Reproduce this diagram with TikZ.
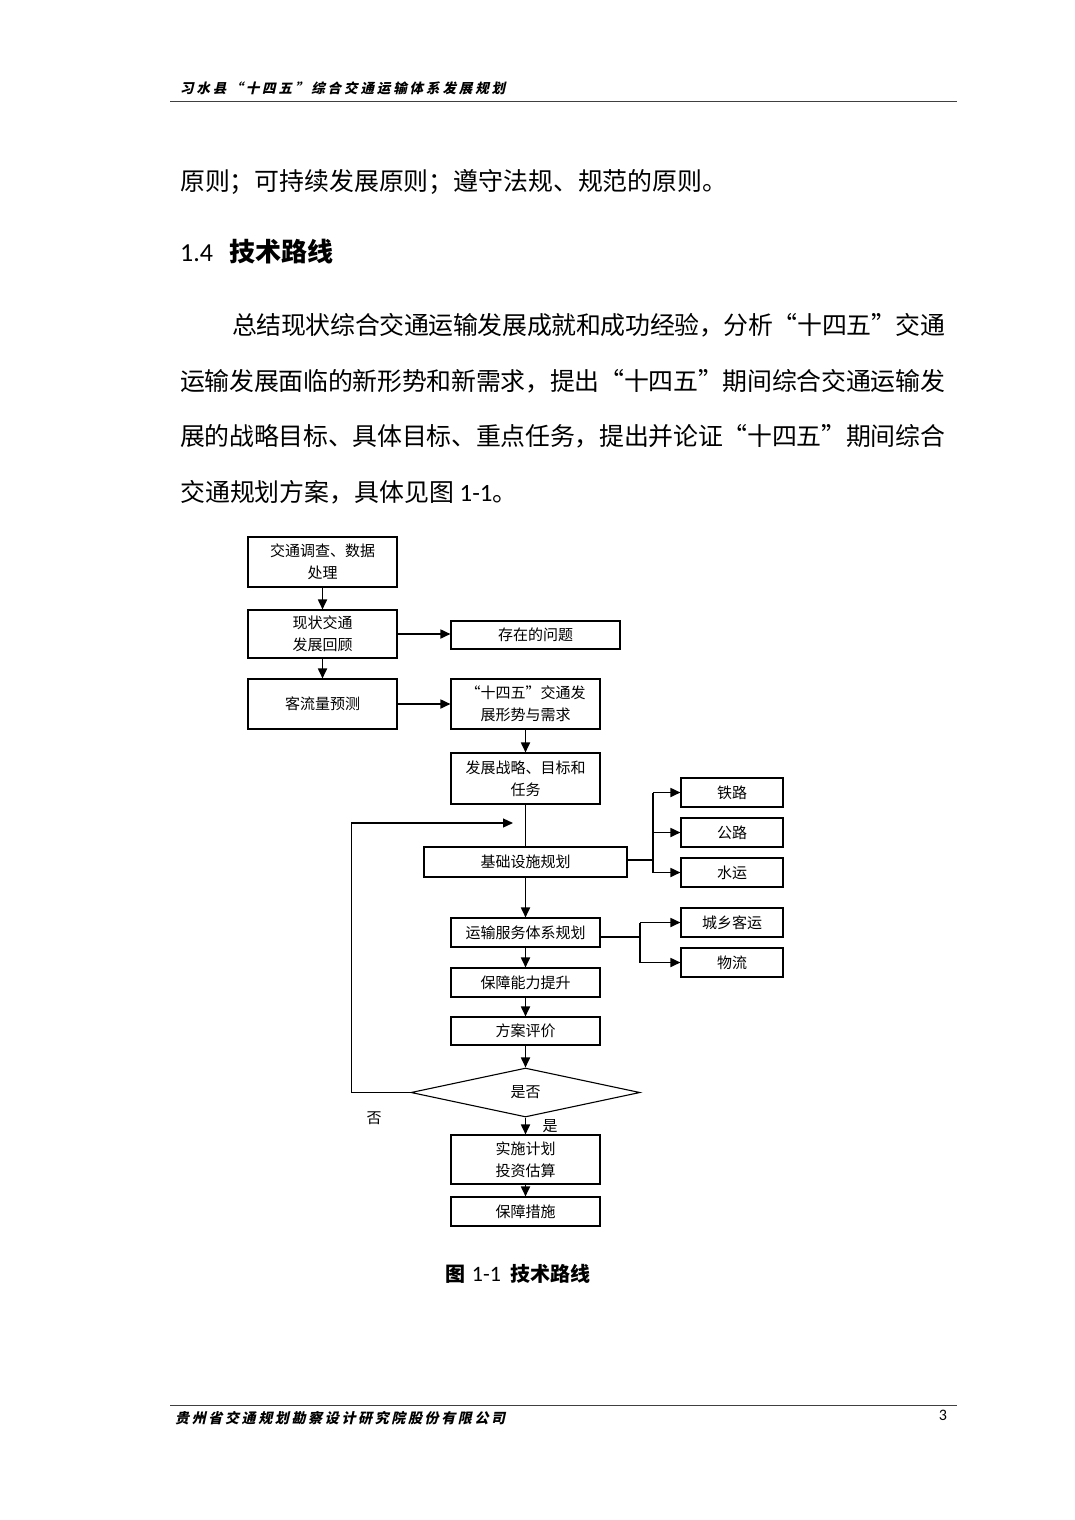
\documentclass[tikz,border=0pt]{standalone}
\usepackage{fontspec}
\setmainfont{Carlito}
\newfontfamily\cjk{Noto Sans CJK SC}
\newfontfamily\hdr[FakeSlant=0.22]{Noto Sans CJK SC}
\usetikzlibrary{arrows.meta,shapes.geometric}
\def\spreadtxt#1{#1\spreadnext}
\def\spreadnext#1{\ifx\relax#1\else\hskip 0pt plus 1fil minus 4pt #1\expandafter\spreadnext\fi}
\begin{document}
\begin{tikzpicture}[x=1pt,y=-1pt,
  box/.style={draw, line width=1.1pt, inner sep=0pt, align=center,
    font=\cjk\fontsize{15}{22}\selectfont},
  arr/.style={line width=1.7pt, -{Triangle[length=10pt,width=9pt]}},
  tarr/.style={line width=1.2pt, -{Triangle[length=10pt,width=9pt]}},
  ln/.style={line width=1.1pt},
  body/.style={anchor=west, inner sep=0pt, font=\cjk\fontsize{24.9}{30}\selectfont},
  lbl/.style={inner sep=0pt, font=\cjk\fontsize{15}{22}\selectfont}]
\fill[white] (0,0) rectangle (1074,1520);
\useasboundingbox (0,0) rectangle (1074,1520);
% header
\node[anchor=west, inner sep=0pt, font=\hdr\bfseries\fontsize{13.5}{16}\selectfont] (hd) at (180,88)
  {\makebox[325pt][s]{\spreadtxt 习水县“十四五”综合交通运输体系发展规划\relax}};
\draw[line width=0.9pt, black!75] (170,101) -- (957,101);
% body text
\node[body] (t0) at (180,182) {\makebox[547pt][s]{\spreadtxt 原则；可持续发展原则；遵守法规、规范的原则。\relax}};
\node[anchor=west, inner sep=0pt] (h14) at (180,252)
  {\fontsize{26}{30}\selectfont 1.4\hspace{16pt}{\cjk\bfseries 技术路线}};
\node[body] (p1) at (232,325) {\makebox[713pt][s]{\spreadtxt 总结现状综合交通运输发展成就和成功经验，分析“十四五”交通\relax}};
\node[body] (p2) at (180,381) {\makebox[765pt][s]{\spreadtxt 运输发展面临的新形势和新需求，提出“十四五”期间综合交通运输发\relax}};
\node[body] (p3) at (180,436) {\makebox[765pt][s]{\spreadtxt 展的战略目标、具体目标、重点任务，提出并论证“十四五”期间综合\relax}};
\node[body] (p4) at (180,492) {交通规划方案，具体见图{\rmfamily\ 1-1}。};
% flowchart boxes
\node[box, minimum width=149pt, minimum height=50pt] (b1) at (322.5,562) {交通调查、数据\\处理};
\node[box, minimum width=149pt, minimum height=48pt] (b2) at (322.5,634) {现状交通\\发展回顾};
\node[box, minimum width=169pt, minimum height=28pt] (b3) at (535.5,635) {存在的问题};
\node[box, minimum width=149pt, minimum height=50pt] (b4) at (322.5,704) {客流量预测};
\node[box, minimum width=149pt, minimum height=50pt] (b5) at (525.5,704) {“十四五”交通发\\展形势与需求};
\node[box, minimum width=149pt, minimum height=51pt] (b6) at (525.5,778.5) {发展战略、目标和\\任务};
\node[box, minimum width=203pt, minimum height=30pt] (b7) at (525.5,862) {基础设施规划};
\node[box, minimum width=149pt, minimum height=29pt] (b8) at (525.5,932.5) {运输服务体系规划};
\node[box, minimum width=149pt, minimum height=29pt] (b9) at (525.5,982.5) {保障能力提升};
\node[box, minimum width=149pt, minimum height=28pt] (b10) at (525.5,1031) {方案评价};
\node[box, shape=diamond, minimum width=229pt, minimum height=49pt] (d) at (525.5,1092.5) {\raisebox{-5pt}{是否}};
\node[box, minimum width=149pt, minimum height=49pt] (b11) at (525.5,1159.5) {实施计划\\投资估算};
\node[box, minimum width=149pt, minimum height=29pt] (b12) at (525.5,1211.5) {保障措施};
\node[box, minimum width=102pt, minimum height=29pt] (r1) at (732,792.5) {铁路};
\node[box, minimum width=102pt, minimum height=29pt] (r2) at (732,832.5) {公路};
\node[box, minimum width=102pt, minimum height=29pt] (r3) at (732,872.5) {水运};
\node[box, minimum width=102pt, minimum height=29pt] (r4) at (732,922.5) {城乡客运};
\node[box, minimum width=102pt, minimum height=29pt] (r5) at (732,962.5) {物流};
% connectors
\draw[arr] (b1) -- (b2);
\draw[arr] (b2.east) -- (b2.east -| b3.west);
\draw[arr] (b2) -- (b4);
\draw[arr] (b4.east) -- (b5.west);
\draw[arr] (b5) -- (b6);
\draw[ln] (b6) -- (b7);
\coordinate (fb) at (513,823);
\draw[tarr] (d.west) -- ++(-59,0) |- (fb);
\draw[arr] (b7) -- (b8);
\coordinate (j1) at (653,860);
\draw[ln] (b7.east |- j1) -- (j1);
\draw[ln] (j1 |- r1) -- (j1 |- r3);
\draw[arr] (j1 |- r1) -- (r1.west);
\draw[arr] (j1 |- r2) -- (r2.west);
\draw[arr] (j1 |- r3) -- (r3.west);
\coordinate (j2) at (640,937);
\draw[ln] (b8.east |- j2) -- (j2);
\draw[ln] (j2 |- r4) -- (j2 |- r5);
\draw[arr] (j2 |- r4) -- (r4.west);
\draw[arr] (j2 |- r5) -- (r5.west);
\draw[arr] (b8) -- (b9);
\draw[arr] (b9) -- (b10);
\draw[arr] (b10) -- (d);
\draw[arr] (d) -- (b11);
\draw[arr] (b11) -- (b12);
\node[lbl] (no) at (374,1118) {否};
\node[lbl] (yes) at (550,1126) {是};
% caption
\node[inner sep=0pt] (cap) at (518,1274)
  {\fontsize{20}{24}\selectfont{\cjk\bfseries 图}\hspace{6pt}{\fontsize{22}{24}\selectfont 1-1}\hspace{9pt}{\cjk\bfseries 技术路线}};
% footer
\draw[line width=0.9pt, black!75] (170,1405) -- (957,1405);
\node[anchor=west, inner sep=0pt, font=\hdr\bfseries\fontsize{14}{16}\selectfont] (ft) at (175,1418)
  {\makebox[330pt][s]{\spreadtxt 贵州省交通规划勘察设计研究院股份有限公司\relax}};
\node[inner sep=0pt, font=\fontsize{16}{18}\selectfont] (pg) at (943,1415) {3};
\end{tikzpicture}
\end{document}
